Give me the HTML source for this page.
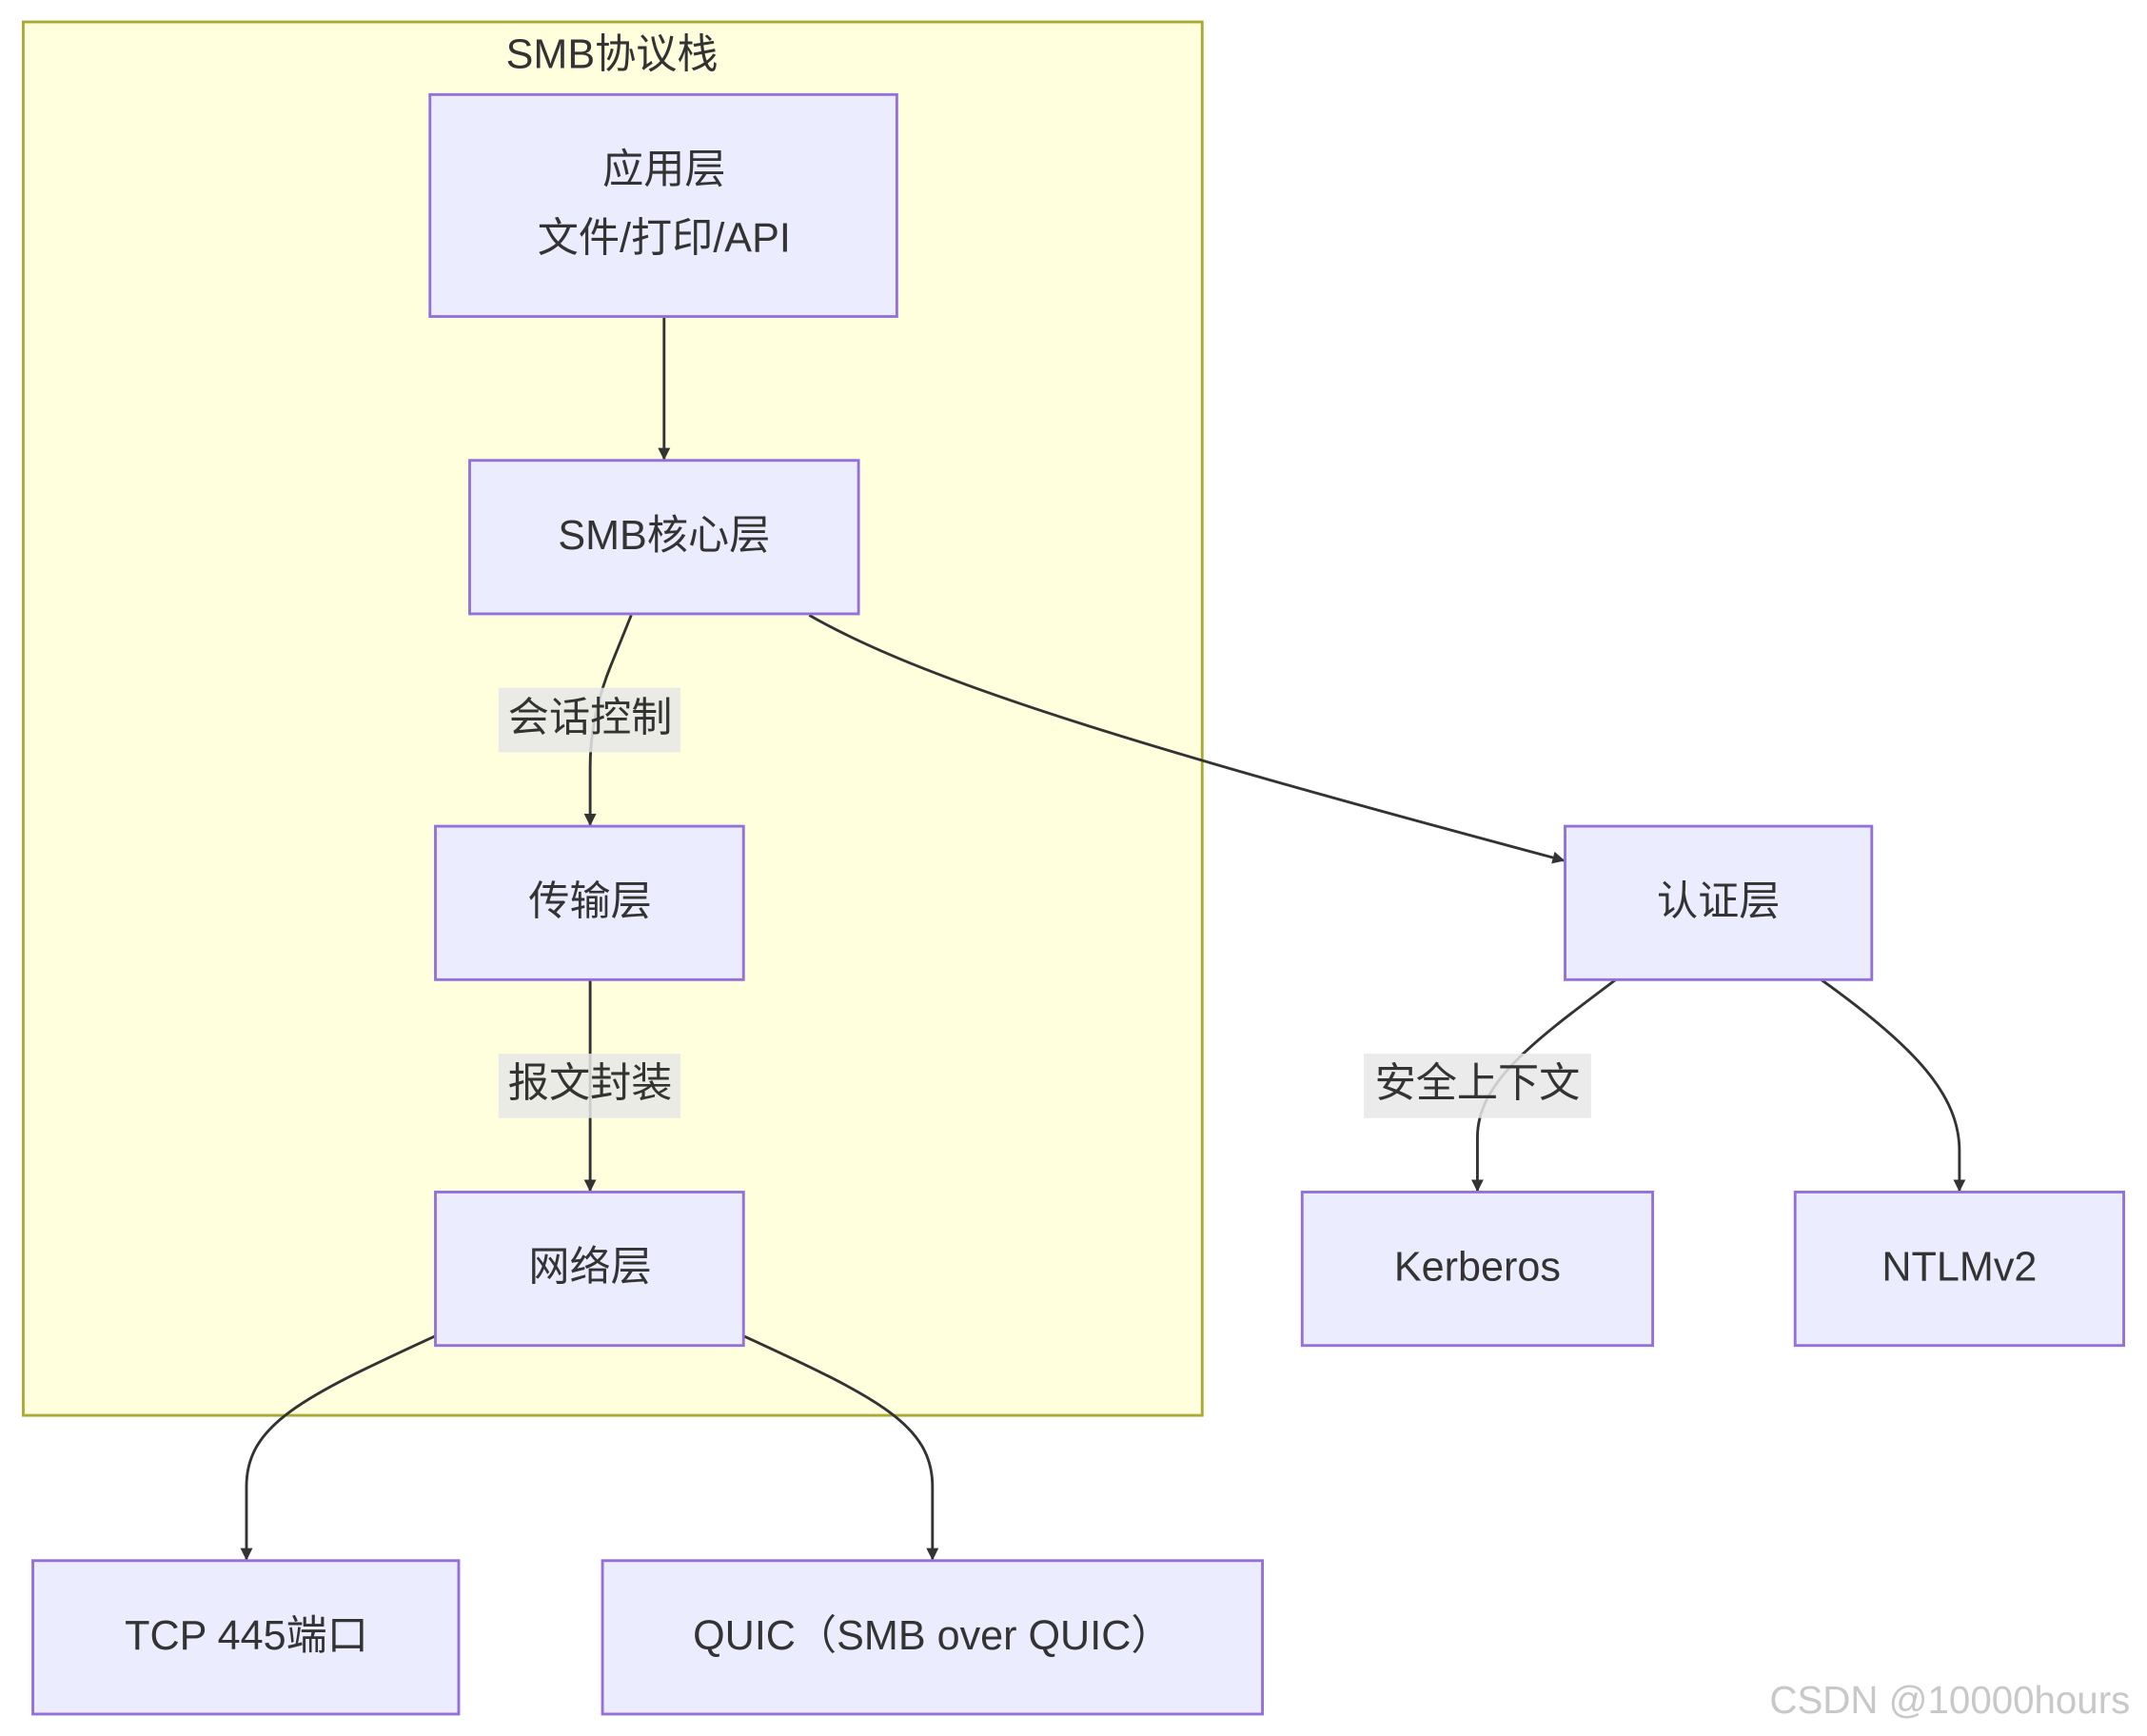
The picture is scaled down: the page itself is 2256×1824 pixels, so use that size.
<!DOCTYPE html>
<html><head><meta charset="utf-8"><style>
html,body{margin:0;padding:0;background:#fff;}
svg{display:block;}
text{font-family:"Liberation Sans","Noto Sans CJK SC",sans-serif;fill:#333;font-size:30px;text-anchor:middle;dominant-baseline:central;}
.n{fill:#ececff;stroke:#9370db;stroke-width:2;}
.e{fill:none;stroke:#333;stroke-width:2;marker-end:url(#a);}
.lb{fill:rgba(232,232,232,0.85);}
</style></head><body>
<svg width="2256" height="1824" viewBox="0 0 1568 1267" preserveAspectRatio="none" xmlns="http://www.w3.org/2000/svg">
<defs><marker id="a" viewBox="0 0 10 10" refX="9" refY="5" markerWidth="9" markerHeight="9" markerUnits="userSpaceOnUse" orient="auto"><path d="M0,0 L10,5 L0,10 z" fill="#333"/></marker></defs>
<rect x="0" y="0" width="1568" height="1267" fill="#fff"/>
<rect x="17" y="16" width="861" height="1017" fill="#ffffde" stroke="#aaaa33" stroke-width="2"/>
<text x="447" y="40">SMB协议栈</text>

<path class="e" d="M485,231 L485,335"/>
<path class="e" d="M461,449 L446,486 Q431,523 431,560 L431,602"/>
<path class="e" d="M591,449 C680,500 850,550 1142,628"/>
<path class="e" d="M431,715 L431,869"/>
<path class="e" d="M1180,715 C1120,760 1079,790 1079,830 L1079,869"/>
<path class="e" d="M1330,715 C1400,765 1431,800 1431,840 L1431,869"/>
<path class="e" d="M318,975 C220,1020 180,1040 180,1085 L180,1138"/>
<path class="e" d="M543,975 C641,1020 681,1040 681,1085 L681,1138"/>

<rect class="n" x="314" y="69" width="341" height="162"/>
<text x="485" y="124">应用层</text><text x="485" y="174">文件/打印/API</text>
<rect class="n" x="343" y="336" width="284" height="112"/><text x="485" y="391">SMB核心层</text>
<rect class="n" x="318" y="603" width="225" height="112"/><text x="431" y="658">传输层</text>
<rect class="n" x="318" y="870" width="225" height="112"/><text x="431" y="925">网络层</text>
<rect class="n" x="1143" y="603" width="224" height="112"/><text x="1255" y="658">认证层</text>
<rect class="n" x="951" y="870" width="256" height="112"/><text x="1079" y="925">Kerberos</text>
<rect class="n" x="1311" y="870" width="240" height="112"/><text x="1431" y="925">NTLMv2</text>
<rect class="n" x="24" y="1139" width="311" height="112"/><text x="180" y="1194">TCP 445端口</text>
<rect class="n" x="440" y="1139" width="482" height="112"/><text x="681" y="1194">QUIC（SMB over QUIC）</text>

<rect class="lb" x="364" y="502" width="133" height="47"/><text x="431" y="524">会话控制</text>
<rect class="lb" x="364" y="769" width="133" height="47"/><text x="431" y="791">报文封装</text>
<rect class="lb" x="996" y="769" width="166" height="47"/><text x="1079" y="791">安全上下文</text>

<text x="1424" y="1241" style="fill:#c8c8c8;font-size:28px;">CSDN @10000hours</text>
</svg>
</body></html>
